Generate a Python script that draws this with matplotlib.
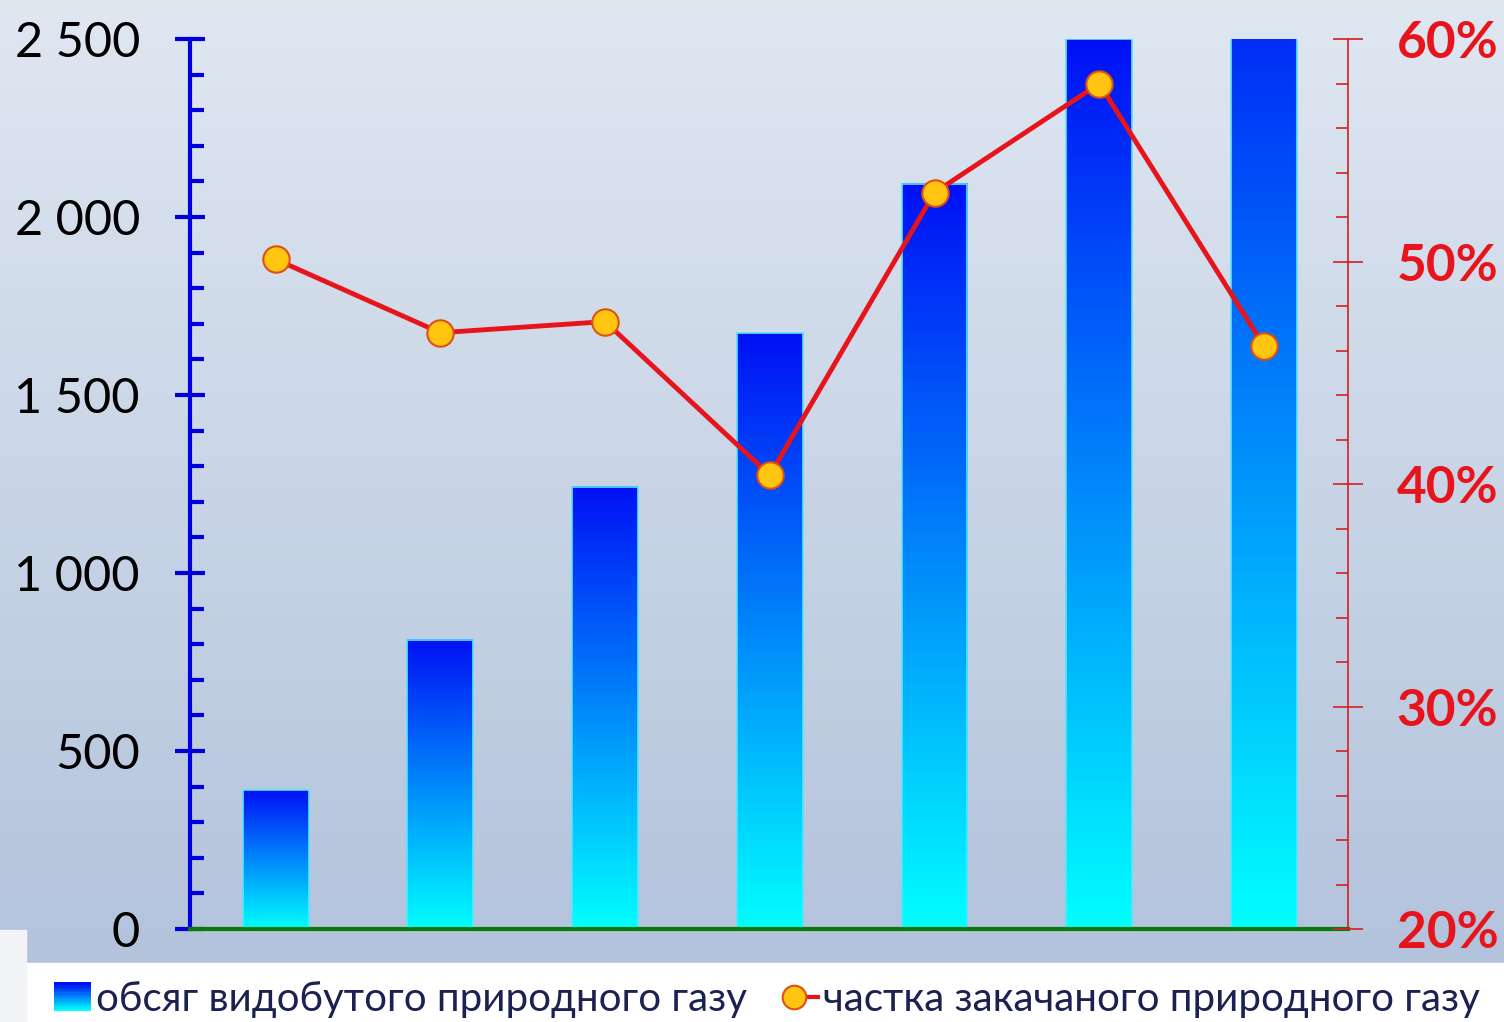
import numpy as np
import matplotlib.pyplot as plt
from matplotlib.colors import LinearSegmentedColormap
from matplotlib.patches import Rectangle
from matplotlib.lines import Line2D
from matplotlib.legend_handler import HandlerBase
from matplotlib.ticker import MultipleLocator, FuncFormatter

# data (x labels are hidden in the original)
categories = ['1', '2', '3', '4', '5', '6', '7']
volume = [390, 812, 1242, 1674, 2093, 2500, 2850]
share = [50.1, 46.8, 47.3, 40.4, 53.1, 58.0, 46.2]
label_volume = 'обсяг видобутого природного газу'
label_share = 'частка закачаного природного газу'

plt.rcParams['font.family'] = ['Lato', 'DejaVu Sans']
bar_cmap = LinearSegmentedColormap.from_list('bar', ['#00ffff', '#0010f5'])
red = '#e8141c'
ymax = 2500

fig = plt.figure(figsize=(15.04, 10.22), dpi=100)

# background: blue-grey gradient, white strip at the bottom
bg = fig.add_axes([0, 0, 1, 1], zorder=-10)
grad = np.linspace(0, 1, 256).reshape(-1, 1)
bg_cmap = LinearSegmentedColormap.from_list('bg', ['#dfe7f1', '#b3c3dc'])
bg.imshow(grad, cmap=bg_cmap, aspect='auto', extent=[0, 1, 0.058, 1])
bg.add_patch(Rectangle((0.017, 0), 1, 0.058, color='white'))
bg.add_patch(Rectangle((0, 0), 0.017, 0.09, color='#f2f4f8'))
bg.set_xlim(0, 1)
bg.set_ylim(0, 1)
bg.axis('off')

ax = fig.add_axes([0.1263, 0.091, 0.77, 0.8708])
ax.set_facecolor('none')
x = np.arange(len(categories))
w = 0.4
bars = ax.bar(x, volume, width=w, color='none', edgecolor='#55e6ff', linewidth=1.2, zorder=2)
for b, v in zip(bars, volume):
    # gradient runs over the whole bar, the part above the axis is cut off
    top = min(v, ymax)
    g = np.linspace(0, top / v, 256).reshape(-1, 1)
    ax.imshow(g, cmap=bar_cmap, vmin=0, vmax=1, origin='lower', aspect='auto',
              extent=[b.get_x(), b.get_x() + w, 0, top], zorder=1)

ax.set_xlim(-0.52, 6.51)
ax.set_ylim(0, ymax)
ax.yaxis.set_major_locator(MultipleLocator(500))
ax.yaxis.set_minor_locator(MultipleLocator(100))
ax.yaxis.set_major_formatter(FuncFormatter(lambda v, p: f'{int(v):,}'.replace(',', ' ')))
ax.tick_params(axis='y', which='major', direction='inout', length=22, width=3, color='#0000dd',
               labelsize=35, pad=25, labelcolor='black')
ax.tick_params(axis='y', which='minor', direction='in', length=10, width=3, color='#0000dd')
ax.set_xticks(x)
ax.set_xticklabels([])
ax.tick_params(axis='x', length=0)
ax.spines['left'].set_color('#0000dd')
ax.spines['left'].set_linewidth(3)
ax.spines['bottom'].set_color('#0a7a0a')
ax.spines['bottom'].set_linewidth(3)
ax.spines['top'].set_visible(False)
ax.spines['right'].set_visible(False)

ax2 = ax.twinx()
ax2.plot(x, share, color=red, lw=3.5, marker='o', markersize=19,
         markerfacecolor='#ffc510', markeredgecolor='#e05010', markeredgewidth=1.5, zorder=3)
ax2.set_ylim(20, 60)
ax2.yaxis.set_major_locator(MultipleLocator(10))
ax2.yaxis.set_minor_locator(MultipleLocator(2))
ax2.yaxis.set_major_formatter(FuncFormatter(lambda v, p: f'{int(v)}%'))
ax2.tick_params(axis='y', which='major', direction='inout', length=22, width=1.2, color='#d42020',
                labelsize=37, pad=24, labelcolor=red)
ax2.tick_params(axis='y', which='minor', direction='in', length=9, width=1.2, color='#d42020')
for t in ax2.get_yticklabels():
    t.set_fontweight('bold')
ax2.spines['right'].set_color('#d42020')
ax2.spines['right'].set_linewidth(1.2)
for s in ['top', 'left', 'bottom']:
    ax2.spines[s].set_visible(False)


class GradientHandler(HandlerBase):
    def create_artists(self, legend, orig, xd, yd, width, height, fontsize, trans):
        n = 12
        arts = []
        for i in range(n):
            r = Rectangle((xd, yd + height * i / n), width, height / n + 0.3,
                          facecolor=bar_cmap(i / (n - 1)), edgecolor='none', transform=trans)
            arts.append(r)
        return arts


class MarkerLineHandler(HandlerBase):
    def create_artists(self, legend, orig, xd, yd, width, height, fontsize, trans):
        cx = xd + height * 0.45
        cy = yd + height / 2
        ln = Line2D([cx, xd + width], [cy, cy], color=red, lw=3, transform=trans)
        mk = Line2D([cx], [cy], marker='o', markersize=17, markerfacecolor='#ffc510',
                    markeredgecolor='#e05010', markeredgewidth=1.5, linestyle='none',
                    transform=trans)
        return [ln, mk]


h1 = Rectangle((0, 0), 1, 1)
h2 = Line2D([], [])
fig.legend([h1, h2], [label_volume, label_share], loc='center', bbox_to_anchor=(0.51, 0.022),
           ncol=2, frameon=False, fontsize=29, handlelength=0.92, handletextpad=0.12,
           columnspacing=0.85, labelcolor='#1b2150',
           handler_map={h1: GradientHandler(), h2: MarkerLineHandler()})

fig.savefig('out.png', dpi=100)
